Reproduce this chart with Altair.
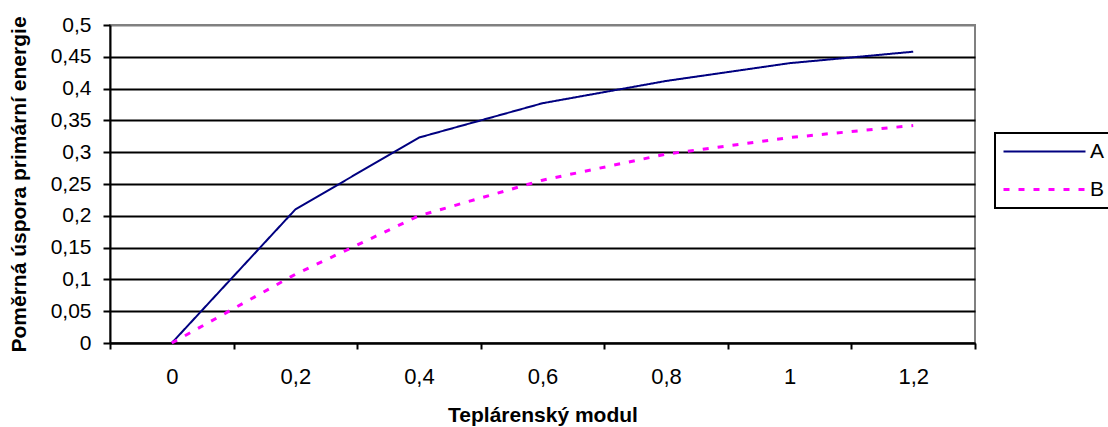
import altair as alt
import pandas as pd

# --- data ---
x_values = [0, 0.2, 0.4, 0.6, 0.8, 1.0, 1.2]
series_a = [0, 0.21, 0.323, 0.377, 0.412, 0.44, 0.458]
series_b = [0, 0.108, 0.2, 0.256, 0.297, 0.323, 0.342]
series_names = ["A", "B"]
x_axis_values = [-0.1, 0, 0.1, 0.2, 0.3, 0.4, 0.5, 0.6, 0.7, 0.8, 0.9, 1.0, 1.1, 1.2, 1.3]
y_axis_values = [0, 0.05, 0.1, 0.15, 0.2, 0.25, 0.3, 0.35, 0.4, 0.45, 0.5]
x_title = "Teplárenský modul"
y_title = "Poměrná úspora primární energie"

df = pd.DataFrame({
    "x": x_values + x_values,
    "y": series_a + series_b,
    "s": [series_names[0]] * len(x_values) + [series_names[1]] * len(x_values),
})

FONT = "Liberation Sans"

legend = alt.Legend(
    title=None,
    orient="none",
    legendX=885,
    legendY=108,
    padding=8,
    fillColor="white",
    strokeColor="black",
    labelFont=FONT,
    labelFontSize=21,
    labelColor="black",
    labelOffset=66,
    rowPadding=16,
    symbolType="M-2,0H14.4",
    symbolSize=100,
)

x_axis = alt.Axis(
    values=x_axis_values,
    labelExpr="abs(round(datum.value*10)) % 2 == 0 ? replace(format(datum.value, '.1~f'), '.', ',') : ''",
    tickOpacity={"condition": {"test": "abs(round(datum.value*10)) % 2 == 1", "value": 1}, "value": 0},
    grid=False,
    title=x_title,
    titleFont=FONT,
    titleFontSize=21,
    titleFontWeight="bold",
    titleColor="black",
    titlePadding=17,
    labelFont=FONT,
    labelFontSize=22,
    labelColor="black",
    labelPadding=17,
    labelAngle=0,
    labelOverlap=False,
    labelFlush=False,
    tickSize=6,
    tickWidth=2,
    tickColor="black",
    domainColor="black",
    domainWidth=2,
)

y_axis = alt.Axis(
    values=y_axis_values,
    labelExpr="replace(format(datum.value, '.2~f'), '.', ',')",
    grid=True,
    gridColor={"condition": {"test": "datum.value >= 0.499", "value": "#808080"}, "value": "black"},
    gridWidth=2,
    title=y_title,
    titleFont=FONT,
    titleFontSize=21,
    titleFontWeight="bold",
    titleColor="black",
    titlePadding=21,
    labelFont=FONT,
    labelFontSize=21,
    labelColor="black",
    labelPadding=12,
    labelOverlap=False,
    labelFlush=False,
    tickSize=7,
    tickWidth=2,
    tickColor="black",
    domainColor="black",
    domainWidth=2,
)

chart = (
    alt.Chart(df)
    .mark_line(strokeCap="butt")
    .encode(
        x=alt.X("x:Q", scale=alt.Scale(domain=[-0.1, 1.3], nice=False, zero=False), axis=x_axis),
        y=alt.Y("y:Q", scale=alt.Scale(domain=[0, 0.5], nice=False, zero=False), axis=y_axis),
        color=alt.Color("s:N", scale=alt.Scale(domain=series_names, range=["#000080", "#FF00FF"]), legend=legend),
        strokeDash=alt.StrokeDash("s:N", scale=alt.Scale(domain=series_names, range=[[1, 0], [6, 9]]), legend=legend),
        strokeWidth=alt.StrokeWidth("s:N", scale=alt.Scale(domain=series_names, range=[2, 3]), legend=legend),
    )
    .properties(
        width=865,
        height=318,
        autosize=alt.AutoSizeParams(type="none"),
        padding={"left": 110, "top": 25, "right": 133, "bottom": 84},
    )
    .configure_view(stroke="#808080", strokeWidth=2)
    .configure_legend(strokeWidth=2)
)

chart.save("out.html", embed_options={"renderer": "svg", "actions": False})
